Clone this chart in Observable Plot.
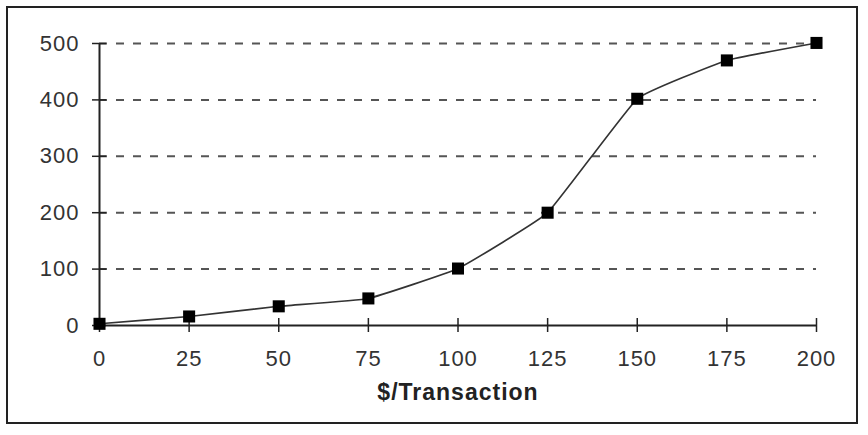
<!DOCTYPE html>
<html>
<head>
<meta charset="utf-8">
<script src="https://cdn.jsdelivr.net/npm/d3@7"></script>
<script src="https://cdn.jsdelivr.net/npm/@observablehq/plot@0.6"></script>
<style>
  html, body { margin: 0; padding: 0; background: #fff; }
  #chart svg { display: block; }
</style>
</head>
<body>
<div id="chart"></div>
<script>
const amounts = [0, 25, 50, 75, 100, 125, 150, 175, 200];
const counts = [3, 16, 34, 48, 101, 200, 402, 470, 501];
const xTicks = [0, 25, 50, 75, 100, 125, 150, 175, 200];
const yTicks = [0, 100, 200, 300, 400, 500];
const gridValues = [100, 200, 300, 400, 500];
const xLabel = "$/Transaction";

const data = amounts.map((a, i) => ({x: a, y: counts[i]}));
const font = "Liberation Sans, Arial, sans-serif";

const chart = Plot.plot({
  width: 868,
  height: 435,
  marginLeft: 99,
  marginRight: 52,
  marginTop: 43,
  marginBottom: 110,
  style: {fontFamily: font, background: "#fff", letterSpacing: "1px"},
  x: {domain: [0, 200], label: null},
  y: {domain: [0, 500], label: null},
  marks: [
    Plot.ruleY(gridValues, {x1: 0, x2: 200, y: d => d, stroke: "#555", strokeWidth: 2, strokeDasharray: "8,9"}),
    Plot.ruleX([0], {y1: 0, y2: 500, stroke: "#222", strokeWidth: 2}),
    Plot.ruleY([0], {x1: 0, x2: 200, stroke: "#222", strokeWidth: 2}),
    Plot.axisX({ticks: xTicks, tickSize: 14, dy: -7, text: null, stroke: "#222", strokeWidth: 1.5}),
    Plot.axisX({ticks: xTicks, tickSize: 0, tickPadding: 25, fontSize: 22, fill: "#333", label: null}),
    Plot.axisY({ticks: yTicks, tickSize: 14, dx: 7, text: null, stroke: "#222", strokeWidth: 1.5}),
    Plot.axisY({ticks: yTicks, tickSize: 0, tickPadding: 20, fontSize: 22, fill: "#333", label: null}),
    Plot.line(data, {x: "x", y: "y", curve: "cardinal", tension: 0.7, stroke: "#333", strokeWidth: 1.6}),
    Plot.dot(data, {x: "x", y: "y", symbol: "square", r: 6.8, fill: "#000", stroke: "none"}),
    Plot.text([xLabel], {frameAnchor: "bottom", dy: 74, text: d => d, fontSize: 23, fontWeight: "bold", fill: "#222", lineAnchor: "bottom"})
  ]
});

d3.select(chart).append("rect")
  .attr("x", 7).attr("y", 7).attr("width", 850).attr("height", 416)
  .attr("fill", "none").attr("stroke", "#222").attr("stroke-width", 2);

document.getElementById("chart").appendChild(chart);
</script>
</body>
</html>
